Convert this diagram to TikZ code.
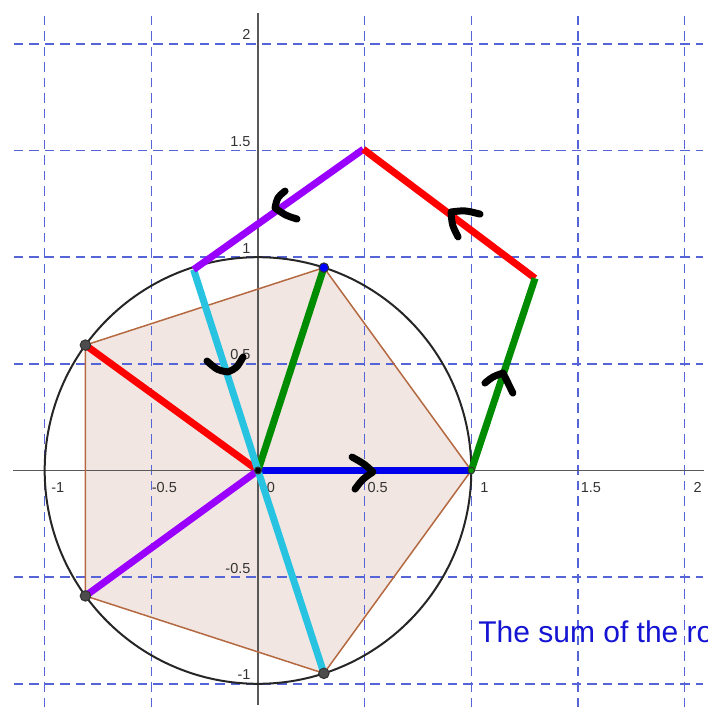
\documentclass[tikz,border=0pt]{standalone}
\usepackage{fontspec}
\setmainfont{Liberation Sans}
\definecolor{gridblue}{RGB}{85,100,215}
\definecolor{pentfill}{RGB}{241,230,225}
\definecolor{pentedge}{RGB}{180,105,65}
\definecolor{vblue}{RGB}{0,0,235}
\definecolor{vgreen}{RGB}{0,140,0}
\definecolor{vred}{RGB}{255,0,0}
\definecolor{vpurple}{RGB}{153,0,255}
\definecolor{vcyan}{RGB}{40,195,225}
\definecolor{txtblue}{RGB}{20,20,210}
\begin{document}
\begin{tikzpicture}[x=3cm,y=3cm,
  gridline/.style={draw=gridblue, line width=0.6pt, dash pattern=on 3.8pt off 2.4pt},
  axisline/.style={draw=black!65, line width=0.6pt},
  ylab/.style={anchor=south east, inner sep=0pt, font=\fontsize{5.8}{6}\selectfont, text=black!80},
  xlab/.style={anchor=north, inner sep=0pt, font=\fontsize{5.8}{6}\selectfont, text=black!80},
  vec/.style={line width=2.8pt},
  hand/.style={draw=black, line width=2.8pt, line cap=round, line join=round},
  ptdot/.style={circle, inner sep=0pt, minimum size=4.2pt, draw=black!80, line width=0.4pt, fill=black!70}
]
\useasboundingbox (-1.2095,-1.1181) rectangle (2.1097,2.2058);

% points
\coordinate (O) at (0,0);
\coordinate (P1) at (1,0);
\coordinate (P2) at (0.309,0.951);
\coordinate (P3) at (-0.809,0.588);
\coordinate (P4) at (-0.809,-0.588);
\coordinate (P5) at (0.309,-0.951);
\coordinate (B) at (1.299,0.901);
\coordinate (C) at (0.494,1.506);
\coordinate (D) at (-0.302,0.942);

% pentagon fill
\fill[pentfill] (P1) -- (P2) -- (P3) -- (P4) -- (P5) -- cycle;

% grid
\foreach \gx in {-1,-0.5,0.5,1,1.5,2}
  \draw[gridline] (\gx,-1.109) -- (\gx,2.145);
\foreach \gy in {-1,-0.5,0.5,1,1.5,2}
  \draw[gridline] (-1.144,\gy) -- (2.086,\gy);

% axes
\draw[axisline] (-1.148,0) -- (2.091,0);
\draw[axisline] (0,-1.101) -- (0,2.145);

% axis labels
\node[ylab] (ly2) at (-0.033,2.016) {2};
\node[ylab] (ly15) at (-0.033,1.516) {1.5};
\node[ylab] (ly1) at (-0.033,1.016) {1};
\node[ylab] (ly05) at (-0.033,0.516) {0.5};
\node[ylab] (lym05) at (-0.033,-0.484) {-0.5};
\node[ylab] (lym1) at (-0.033,-0.984) {-1};
\node[xlab] (lxm1) at (-0.939,-0.052) {-1};
\node[xlab] (lxm05) at (-0.439,-0.052) {-0.5};
\node[xlab] (lx0) at (0.061,-0.052) {0};
\node[xlab] (lx05) at (0.561,-0.052) {0.5};
\node[xlab] (lx1) at (1.061,-0.052) {1};
\node[xlab] (lx15) at (1.561,-0.052) {1.5};
\node[xlab] (lx2) at (2.061,-0.052) {2};

% pentagon edges and circle
\draw[pentedge, line width=0.6pt] (P1) -- (P2) -- (P3) -- (P4) -- (P5) -- cycle;
\draw[black!85, line width=0.8pt] (O) circle (1);

% vectors from the origin
\draw[vec, vred] (O) -- (P3);
\draw[vec, vpurple] (O) -- (P4);
\draw[vec, vblue] (O) -- (P1);
\draw[vec, vgreen] (O) -- (P2);
\draw[vec, vcyan] (D) -- (O) -- (P5);

% chain of vectors
\draw[vec, vpurple] (C) -- (D);
\draw[vec, vred] (B) -- (C);
\draw[vec, vgreen] (P1) -- (B);

% points
\node[ptdot] (d3) at (P3) {};
\node[ptdot] (d4) at (P4) {};
\node[ptdot] (d5) at (P5) {};
\node[ptdot, fill=blue, minimum size=3.8pt] (d2) at (P2) {};
\node[ptdot, fill=black!40!green, minimum size=2.6pt] (d1) at (P1) {};
\node[ptdot, fill=black, minimum size=2.8pt] (d0) at (O) {};

% hand-drawn arrow marks
\draw[hand] (0.441,0.063) .. controls (0.50,0.030) .. (0.539,-0.007) .. controls (0.49,-0.04) .. (0.455,-0.087);
\draw[hand] (1.064,0.410) .. controls (1.10,0.440) .. (1.149,0.457) .. controls (1.17,0.41) .. (1.195,0.363);
\draw[hand] (1.041,1.202) .. controls (0.97,1.220) .. (0.905,1.212) .. controls (0.91,1.15) .. (0.938,1.095);
\draw[hand] (0.127,1.310) .. controls (0.09,1.280) .. (0.080,1.231) .. controls (0.13,1.195) .. (0.183,1.179);
\draw[hand] (-0.239,0.513) .. controls (-0.19,0.470) .. (-0.141,0.462) .. controls (-0.10,0.48) .. (-0.070,0.532);

% text
\node[anchor=base west, inner sep=0pt, font=\fontsize{12}{14}\selectfont, text=txtblue] (sumtxt) at (1.031,-0.804) {The sum of the ro};
\end{tikzpicture}
\end{document}
